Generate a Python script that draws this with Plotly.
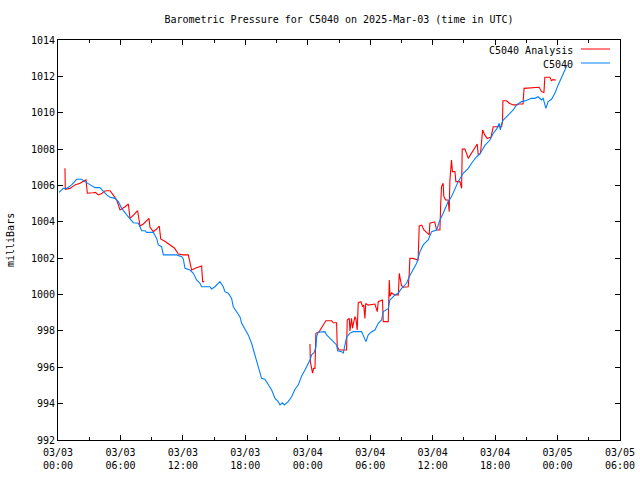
import pandas as pd
import plotly.graph_objects as go

# ---- data (hours since 2025-03-03 00:00 UTC) ----
obs_hours = [0.1, 0.51, 0.83, 1.31, 1.79, 2.27, 2.59, 3.07, 3.55, 4.03, 4.35, 4.68, 5.0, 5.48, 5.8,
             6.12, 6.6, 6.92, 7.24, 7.72, 8.04, 8.36, 8.52, 9.16, 9.48, 9.64, 9.96, 10.12, 10.44,
             11.4, 11.88, 12.04, 12.2, 12.68, 13.0, 13.32, 13.64, 13.8, 14.6, 14.76, 15.08, 15.56,
             15.88, 16.04, 16.36, 16.68, 16.84, 17.17, 17.48, 17.65, 17.96, 18.28, 18.6, 18.92,
             19.24, 19.56, 19.88, 20.2, 20.53, 20.85, 21.16, 21.33, 21.55, 21.74, 22.12, 22.45,
             22.77, 23.08, 23.25, 23.41, 23.73, 24.05, 24.21, 24.37, 24.6, 24.78, 24.85, 25.0,
             25.48, 25.65, 25.81, 26.13, 26.45, 26.77, 26.87, 27.25, 27.41, 27.57, 27.73, 28.05,
             28.37, 29.17, 29.33, 29.59, 29.81, 30.14, 30.45, 30.77, 31.09, 31.25, 31.73, 31.89,
             32.37, 32.69, 33.01, 33.49, 33.81, 34.13, 34.46, 34.78, 35.09, 35.57, 35.9, 36.38,
             36.7, 37.01, 37.49, 37.81, 38.14, 38.45, 38.93, 39.42, 39.74, 40.22, 40.54, 41.02,
             41.5, 41.82, 42.14, 42.4, 42.5, 42.62, 42.78, 43.26, 43.74, 44.06, 44.54, 44.86,
             45.18, 45.5, 45.82, 46.13, 46.46, 46.62, 46.88, 47.1, 47.42, 47.74, 48.06, 48.38,
             48.7, 48.92]
obs_values = [1005.62, 1005.84, 1005.84, 1006.03, 1006.34, 1006.34, 1006.21, 1006.03, 1005.88,
              1005.88, 1005.66, 1005.48, 1005.35, 1005.29, 1005.11, 1004.74, 1004.38, 1004.16,
              1003.95, 1003.92, 1003.51, 1003.51, 1003.42, 1003.42, 1003.09, 1002.73, 1002.63,
              1002.18, 1002.18, 1002.18, 1002.08, 1001.96, 1001.44, 1001.35, 1001.17, 1000.80,
              1000.62, 1000.43, 1000.43, 1000.31, 1000.43, 1000.71, 1000.43, 1000.16, 1000.07,
              999.79, 999.33, 999.06, 998.78, 998.42, 998.14, 997.78, 997.32, 996.68, 996.13,
              995.39, 995.34, 995.02, 994.75, 994.29, 994.11, 993.93, 994.05, 993.93, 994.11,
              994.38, 994.79, 995.02, 995.30, 995.52, 995.85, 996.22, 996.40, 996.68, 996.80,
              997.10, 997.68, 997.93, 997.93, 997.96, 997.78, 997.59, 997.41, 997.23, 996.91,
              996.86, 996.78, 997.32, 997.65, 997.88, 997.96, 997.96, 997.78, 997.41, 997.78,
              997.96, 998.05, 998.42, 998.60, 999.06, 999.22, 999.70, 999.98, 1000.07, 1000.34,
              1000.62, 1001.05, 1001.35, 1001.72, 1002.36, 1002.73, 1003.0, 1003.46, 1003.55,
              1004.1, 1004.47, 1005.11, 1005.38, 1005.84, 1006.21, 1006.67, 1006.94, 1007.22,
              1007.58, 1007.73, 1008.2, 1008.5, 1008.87, 1009.1, 1009.42, 1009.05, 1009.4,
              1009.6, 1009.88, 1010.15, 1010.43, 1010.61, 1010.65, 1010.70, 1010.79, 1010.79,
              1010.88, 1010.70, 1010.79, 1010.24, 1010.61, 1010.74, 1011.07, 1011.53, 1011.98,
              1012.35, 1012.63]

ana_hours = [0.67, 0.7, 1.15, 1.63, 2.11, 2.43, 2.69, 2.82, 3.1, 3.39, 3.6, 3.87, 4.2, 4.45, 4.68,
             5.0, 5.3, 5.64, 5.96, 6.25, 6.45, 6.76, 6.92, 7.25, 7.65, 7.88, 8.2, 8.74, 8.84, 9.16,
             9.45, 9.73, 9.87, 10.3, 10.76, 11.2, 11.56, 12.0, 12.52, 12.84, 13.3, 13.8, 13.9,
             14.05, 19.0,
             24.21, 24.25, 24.46, 24.55, 24.69, 24.78, 25.1, 25.74, 26.29, 26.45, 26.77, 26.83,
             27.02, 27.73, 27.79, 27.99, 28.05, 28.2, 28.3, 28.53, 28.62, 28.75, 28.85, 29.11,
             29.27, 29.38, 29.49, 29.57, 29.8, 30.45, 30.68, 30.77, 31.18, 31.25, 31.73, 31.83,
             31.9, 32.05, 32.37, 32.7, 32.79, 33.0, 33.17, 33.65, 33.75, 33.81, 34.1, 34.6, 34.71,
             34.95, 35.16, 35.67, 35.73, 36.2, 36.38, 36.7, 36.76, 36.85, 37.01, 37.07, 37.25,
             37.49, 37.59, 37.65, 37.81, 37.9, 38.14, 38.23, 38.62, 38.78, 38.84, 39.1, 39.42,
             39.74, 40.05, 40.28, 40.38, 40.6, 40.8, 41.0, 41.24, 41.6, 41.82, 42.62, 42.71,
             42.75, 43.1, 43.36, 43.74, 44.1, 44.3, 44.68, 44.78, 45.8, 46.23, 46.46, 46.69,
             46.78, 47.26, 47.42, 47.55, 47.84]
ana_values = [1006.94, 1005.79, 1005.84, 1006.03, 1006.12, 1006.21, 1006.30, 1005.57, 1005.57,
              1005.60, 1005.62, 1005.48, 1005.55, 1005.68, 1005.71, 1005.71, 1005.48, 1005.2,
              1004.65, 1004.74, 1004.83, 1004.98, 1004.19, 1004.37, 1004.61, 1003.77, 1003.88,
              1004.19, 1003.70, 1003.46, 1003.59, 1003.77, 1003.06, 1002.92, 1002.73, 1002.55,
              1002.23, 1002.18, 1002.18, 1001.35, 1001.48, 1001.57, 1000.71, 1000.71, None,
              997.28, 996.3, 995.67, 995.94, 995.94, 997.87, 997.96, 998.56, 998.56, 998.45,
              998.45, 997.13, 996.95, 996.95, 998.60, 998.69, 998.0, 998.69, 998.15, 998.78,
              998.69, 998.05, 999.55, 999.61, 999.33, 999.42, 998.69, 999.51, 999.42, 999.48,
              999.06, 999.61, 999.70, 998.51, 998.51, 1000.80, 999.9, 1000.1, 999.98, 999.98,
              1001.17, 1000.5, 1000.40, 1000.43, 1001.17, 1001.99, 1001.99, 1001.9, 1003.77,
              1003.82, 1003.55, 1003.28, 1003.92, 1004.0, 1003.55, 1003.55, 1004.80, 1005.93,
              1006.12, 1005.4, 1005.2, 1005.2, 1004.56, 1006.21, 1007.40, 1006.76, 1006.76,
              1006.21, 1006.21, 1005.84, 1008.0, 1008.0, 1007.49, 1007.77, 1008.05, 1008.28,
              1007.68, 1007.77, 1009.05, 1008.78, 1008.59, 1008.65, 1009.23, 1009.23, 1009.51,
              1010.66, 1010.66, 1010.52, 1010.43, 1010.43, 1010.48, 1010.48, 1011.34, 1011.40,
              1011.40, 1011.16, 1011.11, 1011.95, 1011.95, 1011.76, 1011.82, 1011.80]

tick_hours = [0, 6, 12, 18, 24, 30, 36, 42, 48, 54]
tick_labels = ["03/03<br>00:00", "03/03<br>06:00", "03/03<br>12:00", "03/03<br>18:00",
               "03/04<br>00:00", "03/04<br>06:00", "03/04<br>12:00", "03/04<br>18:00",
               "03/05<br>00:00", "03/05<br>06:00"]
y_ticks = [992, 994, 996, 998, 1000, 1002, 1004, 1006, 1008, 1010, 1012, 1014]

BASE = pd.Timestamp("2025-03-03 00:00:00")
to_t = lambda hs: [BASE + pd.Timedelta(hours=h) for h in hs]

FONT = "DejaVu Sans Mono"
RED = "#ff0000"
BLUE = "#0080ff"

fig = go.Figure()
fig.add_trace(go.Scatter(x=to_t(ana_hours), y=ana_values, mode="lines", name="C5040 Analysis",
                         line=dict(color=RED, width=1.1), connectgaps=False))
fig.add_trace(go.Scatter(x=to_t(obs_hours), y=obs_values, mode="lines", name="C5040",
                         line=dict(color=BLUE, width=1.1)))

axis_common = dict(showgrid=False, zeroline=False, showline=True, linecolor="black", linewidth=1,
                   mirror="allticks", ticks="inside", ticklen=5, tickcolor="black", tickwidth=1,
                   automargin=False,
                   tickfont=dict(family=FONT, size=10, color="black"))

fig.update_layout(
    width=640, height=480,
    margin=dict(l=58, r=20, t=40, b=40, autoexpand=False),
    paper_bgcolor="white", plot_bgcolor="white",
    showlegend=False,
    title=dict(text="Barometric Pressure for C5040 on 2025-Mar-03 (time in UTC)",
               x=0.5, xref="paper", xanchor="center", y=1 - 19 / 480, yref="container",
               yanchor="middle", font=dict(family=FONT, size=10, color="black")),
    xaxis=dict(**axis_common, type="date",
               range=[BASE, BASE + pd.Timedelta(hours=54)],
               tickvals=to_t(tick_hours), ticktext=tick_labels, ticklabelstandoff=3,
               minor=dict(dtick=3 * 3600 * 1000, ticks="inside", ticklen=3,
                          tickcolor="black", showgrid=False)),
    yaxis=dict(**axis_common, range=[992, 1014], tickvals=y_ticks,
               ticktext=[str(v) for v in y_ticks]),
    annotations=[
        dict(text="milliBars", x=(10 - 58) / 562, y=0.5, xref="paper", yref="paper",
             textangle=-90, showarrow=False, xanchor="center", yanchor="middle",
             font=dict(family=FONT, size=10, color="black")),
        dict(text="C5040 Analysis", x=(575 - 58) / 562, y=(440 - 50) / 400, xref="paper",
             yref="paper", showarrow=False, xanchor="right", yanchor="middle",
             font=dict(family=FONT, size=10, color="black")),
        dict(text="C5040", x=(575 - 58) / 562, y=(440 - 64) / 400, xref="paper",
             yref="paper", showarrow=False, xanchor="right", yanchor="middle",
             font=dict(family=FONT, size=10, color="black")),
    ],
    shapes=[
        dict(type="line", xref="paper", yref="paper", x0=(581 - 58) / 562, x1=(610 - 58) / 562,
             y0=(440 - 49) / 400, y1=(440 - 49) / 400, line=dict(color=RED, width=1)),
        dict(type="line", xref="paper", yref="paper", x0=(581 - 58) / 562, x1=(610 - 58) / 562,
             y0=(440 - 63) / 400, y1=(440 - 63) / 400, line=dict(color=BLUE, width=1)),
    ],
)

fig.write_html("out.html", config={"displayModeBar": False},
               post_script="document.body.style.margin='0';document.body.style.overflow='hidden';")
